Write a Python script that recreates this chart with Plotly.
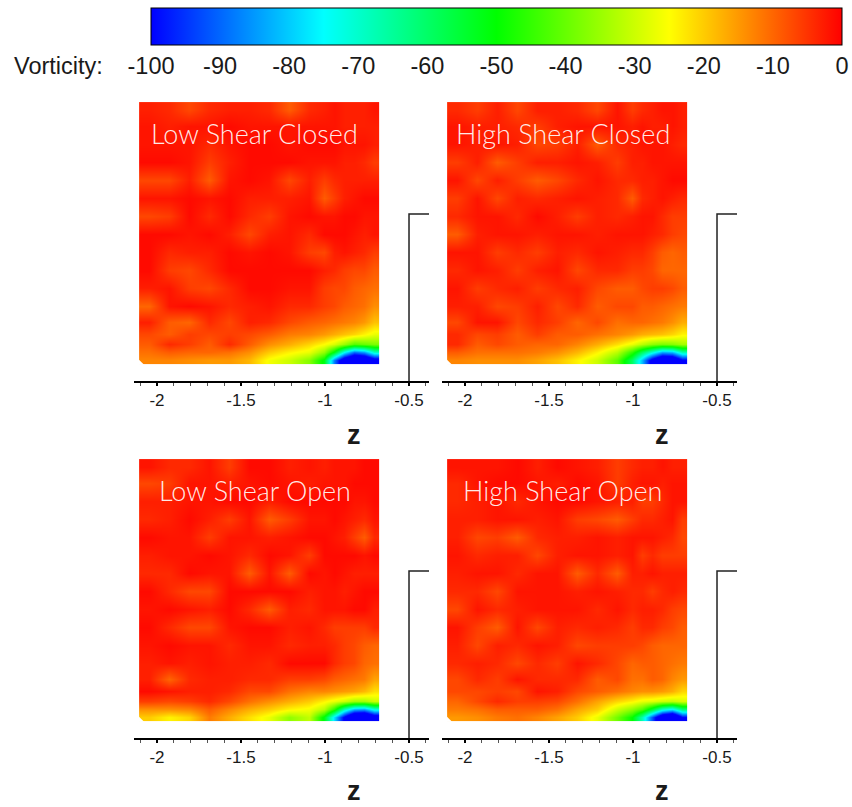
import plotly.graph_objects as go

# Grid positions of the vorticity field
grid_z = [-2.047, -1.928, -1.809, -1.69, -1.571, -1.452, -1.333, -1.214, -1.095,
          -1.006, -0.946, -0.887, -0.827, -0.768, -0.708]
grid_y = [0.125, 0.172, 0.220, 0.280, 0.351, 0.446, 0.553, 0.661, 0.768,
          0.875, 0.982, 1.089, 1.196, 1.303, 1.411, 1.518, 1.613]

# Rows run from the floor upwards
low_shear_closed = [
    [-13, -13, -14, -15, -15, -18, -26, -30, -37, -52, -88, -112, -122, -120, -108],
    [-11, -9, -10, -10, -11, -14, -20, -24, -27, -36, -52, -75, -90, -85, -70],
    [-9, -4, -6, -9, -4, -9, -14, -17, -21, -25, -29, -35, -42, -40, -38],
    [-7, -9, -6, -7, -6, -7, -9, -12, -13, -15, -17, -19, -21, -24, -27],
    [-3, -9, -10, -4, -7, -3, -4, -7, -9, -10, -11, -12, -13, -15, -19],
    [-10, -2, -1, -2, -4, -3, -2, -4, -4, -6, -7, -9, -10, -11, -14],
    [-3, -2, -6, -7, -4, -1, -1, -2, -2, -6, -7, -7, -9, -10, -11],
    [-1, -6, -7, -4, -1, -1, -1, -1, -1, -3, -4, -6, -7, -7, -9],
    [-1, -4, -3, -3, -1, -2, -1, -2, -6, -7, -3, -2, -3, -4, -6],
    [-1, -1, -2, -1, -3, -7, -3, -2, -4, -1, -1, -1, -2, -3, -2],
    [-7, -6, -1, -4, -1, -4, -6, -2, -1, -2, -2, -1, -1, -2, -2],
    [-2, -2, -1, -2, -1, -3, -3, -3, -2, -9, -6, -3, -2, -1, -1],
    [-7, -7, -3, -9, -2, -1, -2, -7, -3, -6, -4, -3, -3, -3, -3],
    [-1, -1, -2, -6, -3, -1, -1, -1, -2, -2, -2, -3, -3, -4, -6],
    [-2, -2, -2, -4, -2, -1, -1, -2, -1, -1, -1, -2, -2, -2, -3],
    [-2, -3, -2, -2, -1, -2, -2, -2, -2, -2, -2, -3, -3, -3, -3],
    [-3, -4, -7, -4, -3, -3, -4, -9, -4, -3, -2, -3, -3, -3, -2],
]
high_shear_closed = [
    [-13, -14, -14, -14, -16, -19, -24, -30, -41, -60, -82, -106, -120, -118, -102],
    [-9, -11, -11, -11, -12, -14, -18, -24, -32, -46, -60, -72, -84, -82, -68],
    [-4, -9, -7, -9, -10, -10, -13, -17, -22, -27, -32, -36, -38, -37, -34],
    [-4, -7, -6, -9, -6, -9, -9, -11, -13, -15, -17, -18, -19, -21, -24],
    [-7, -2, -2, -7, -4, -6, -10, -7, -11, -10, -10, -11, -12, -14, -17],
    [-3, -3, -7, -6, -3, -7, -4, -9, -7, -7, -9, -9, -10, -11, -12],
    [-2, -6, -4, -3, -6, -4, -3, -7, -9, -9, -7, -6, -6, -7, -9],
    [-4, -2, -3, -6, -3, -2, -7, -4, -4, -6, -6, -7, -10, -10, -10],
    [-2, -2, -6, -4, -6, -3, -4, -2, -3, -4, -4, -6, -9, -10, -9],
    [-9, -3, -2, -2, -3, -2, -2, -3, -2, -2, -2, -3, -4, -6, -7],
    [-4, -2, -2, -4, -1, -3, -6, -3, -4, -3, -2, -2, -4, -6, -6],
    [-6, -2, -7, -3, -4, -3, -2, -3, -4, -9, -4, -3, -2, -3, -4],
    [-2, -7, -3, -6, -9, -7, -4, -2, -4, -4, -3, -3, -2, -1, -1],
    [-6, -3, -9, -6, -3, -3, -2, -3, -6, -3, -3, -2, -2, -2, -2],
    [-2, -3, -2, -3, -7, -6, -3, -9, -4, -3, -2, -2, -2, -3, -4],
    [-2, -3, -3, -4, -6, -3, -2, -2, -2, -3, -2, -3, -3, -2, -3],
    [-4, -6, -3, -7, -3, -3, -4, -7, -2, -6, -4, -3, -2, -2, -3],
]
low_shear_open = [
    [-20, -24, -21, -12, -17, -22, -27, -36, -31, -52, -78, -102, -122, -124, -110],
    [-14, -14, -13, -9, -13, -17, -20, -24, -26, -32, -46, -68, -82, -84, -72],
    [-6, -7, -6, -4, -7, -11, -14, -17, -20, -24, -27, -30, -34, -34, -30],
    [-1, -2, -3, -3, -4, -7, -7, -11, -13, -13, -14, -15, -16, -18, -22],
    [-3, -10, -4, -3, -3, -4, -4, -6, -6, -7, -9, -10, -11, -12, -16],
    [-3, -2, -3, -2, -3, -3, -4, -1, -1, -1, -4, -6, -7, -10, -11],
    [-2, -1, -2, -2, -4, -2, -2, -4, -3, -3, -4, -6, -7, -9, -10],
    [-1, -4, -7, -7, -2, -1, -1, -3, -2, -4, -6, -6, -6, -6, -4],
    [-2, -1, -2, -3, -1, -4, -9, -3, -4, -2, -2, -2, -1, -1, -3],
    [-1, -4, -7, -7, -1, -1, -1, -1, -3, -2, -2, -3, -2, -1, -1],
    [-4, -4, -1, -2, -2, -9, -2, -9, -1, -2, -1, -2, -3, -3, -3],
    [-3, -2, -2, -1, -2, -4, -1, -2, -6, -1, -1, -1, -1, -2, -1],
    [-1, -2, -2, -6, -2, -2, -3, -2, -1, -1, -2, -3, -6, -9, -4],
    [-4, -3, -1, -3, -6, -2, -9, -6, -2, -2, -1, -2, -3, -4, -2],
    [-3, -3, -2, -2, -1, -1, -3, -1, -1, -1, -1, -1, -2, -2, -1],
    [-7, -6, -2, -2, -3, -2, -1, -2, -3, -2, -2, -2, -1, -1, -1],
    [-2, -4, -4, -2, -6, -1, -1, -3, -2, -3, -2, -2, -2, -1, -1],
]
high_shear_open = [
    [-15, -14, -12, -11, -13, -16, -20, -27, -39, -50, -68, -92, -116, -124, -100],
    [-12, -11, -9, -9, -9, -11, -16, -20, -30, -36, -42, -55, -70, -76, -62],
    [-10, -7, -4, -6, -6, -7, -11, -16, -21, -24, -27, -28, -30, -31, -29],
    [-7, -7, -6, -7, -2, -3, -7, -9, -11, -13, -14, -14, -15, -17, -21],
    [-7, -4, -6, -2, -4, -4, -4, -9, -7, -11, -11, -9, -10, -13, -15],
    [-4, -3, -4, -7, -4, -6, -2, -4, -7, -10, -9, -9, -10, -11, -12],
    [-3, -7, -3, -4, -2, -3, -7, -6, -6, -6, -7, -9, -10, -10, -10],
    [-2, -6, -9, -2, -7, -3, -4, -3, -4, -6, -4, -4, -6, -7, -9],
    [-7, -2, -4, -3, -2, -2, -2, -4, -2, -4, -3, -3, -4, -6, -7],
    [-4, -4, -7, -2, -2, -2, -3, -2, -3, -4, -4, -6, -4, -3, -4],
    [-3, -2, -2, -4, -2, -2, -9, -4, -9, -3, -3, -2, -3, -3, -3],
    [-2, -4, -3, -3, -7, -3, -2, -2, -3, -2, -6, -4, -6, -6, -6],
    [-3, -7, -6, -9, -4, -3, -3, -2, -3, -2, -2, -2, -3, -4, -7],
    [-3, -3, -2, -2, -3, -2, -6, -7, -9, -6, -4, -4, -3, -2, -6],
    [-4, -3, -2, -4, -2, -1, -1, -2, -3, -3, -6, -6, -4, -2, -2],
    [-4, -2, -1, -1, -2, -3, -1, -2, -6, -3, -2, -2, -3, -2, -2],
    [-2, -2, -2, -1, -3, -1, -2, -3, -6, -4, -3, -3, -2, -3, -3],
]

panel_titles = ["Low Shear Closed", "High Shear Closed", "Low Shear Open", "High Shear Open"]
panel_fields = [low_shear_closed, high_shear_closed, low_shear_open, high_shear_open]

wall_z = [-0.5, -0.5, -0.381]
wall_y = [0.0, 0.994, 0.994]
chamfer_z = [-2.112, -2.077, -2.112]
chamfer_y = [0.096, 0.096, 0.131]

x_ticks = [-2, -1.5, -1, -0.5]
x_tick_labels = ["-2", "-1.5", "-1", "-0.5"]
cbar_ticks = [-100, -90, -80, -70, -60, -50, -40, -30, -20, -10, 0]
cbar_labels = ["-100", "-90", "-80", "-70", "-60", "-50", "-40", "-30", "-20", "-10", "0"]

W, H = 852, 807
col_px = [(134, 429), (442, 737)]
row_px = [(102, 381), (459, 738)]
z_label_px = [435, 791]
Z_RANGE = [-2.137, -0.381]
Y_RANGE = [0, 1.661]

AXIS_FONT = "Liberation Sans, Arial, sans-serif"
fig = go.Figure()
layout = {}
idx = 0
for r in range(2):
    for c in range(2):
        idx += 1
        xname = "x" if idx == 1 else f"x{idx}"
        yname = "y" if idx == 1 else f"y{idx}"
        fig.add_trace(go.Heatmap(x=grid_z, y=grid_y, z=panel_fields[idx - 1], coloraxis="coloraxis",
                                 zsmooth="best", xaxis=xname, yaxis=yname, hoverinfo="skip"))
        fig.add_trace(go.Scatter(x=chamfer_z, y=chamfer_y, mode="lines", fill="toself", fillcolor="white",
                                 line=dict(width=0, color="white"), xaxis=xname, yaxis=yname,
                                 showlegend=False, hoverinfo="skip"))
        fig.add_trace(go.Scatter(x=wall_z, y=wall_y, mode="lines", line=dict(color="#222222", width=1.5),
                                 xaxis=xname, yaxis=yname, showlegend=False, hoverinfo="skip"))
        xl, xr = col_px[c]
        yt, yb = row_px[r]
        layout[xname.replace("x", "xaxis")] = dict(
            domain=[xl / W, xr / W], range=Z_RANGE, anchor=yname, showgrid=False, zeroline=False,
            showline=True, linecolor="black", linewidth=2,
            tickmode="array", tickvals=x_ticks, ticktext=x_tick_labels,
            ticks="outside", ticklen=3, tickwidth=2, tickcolor="black",
            tickfont=dict(family=AXIS_FONT, size=17, color="#1a1a1a"),
            minor=dict(dtick=0.1, tick0=-2, ticks="outside", ticklen=3, tickwidth=1, tickcolor="#555555", showgrid=False),
        )
        layout[yname.replace("y", "yaxis")] = dict(
            domain=[1 - yb / H, 1 - yt / H], range=Y_RANGE, anchor=xname, visible=False)
        fig.add_annotation(x=-1.417, y=1.475, xref=xname, yref=yname, text=panel_titles[idx - 1], showarrow=False,
                           font=dict(family="Lato", size=27, weight=300, color="rgba(255,255,255,0.92)"))
        fig.add_annotation(x=-0.827, y=1 - z_label_px[r] / H, xref=xname, yref="paper", yanchor="middle",
                           text="z", showarrow=False,
                           font=dict(family=AXIS_FONT, size=27, color="#1a1a1a", weight="bold"))

fig.add_annotation(x=58 / W, y=1 - 66 / H, xref="paper", yref="paper", xanchor="center", yanchor="middle",
                   text="Vorticity:", showarrow=False,
                   font=dict(family=AXIS_FONT, size=23.5, color="#1a1a1a"))

fig.update_layout(
    width=W, height=H, margin=dict(l=0, r=0, t=0, b=0), paper_bgcolor="white", plot_bgcolor="white",
    showlegend=False,
    coloraxis=dict(
        cmin=-100, cmax=0,
        colorscale=[[0, "#0000ff"], [0.25, "#00ffff"], [0.5, "#00ff00"], [0.75, "#ffff00"], [1, "#ff0000"]],
        colorbar=dict(
            orientation="h", x=151 / W, xanchor="left", y=1 - 8 / H, yanchor="top",
            lenmode="pixels", len=691, thicknessmode="pixels", thickness=37, xpad=0, ypad=0,
            outlinecolor="black", outlinewidth=1, tickmode="array", tickvals=cbar_ticks, ticktext=cbar_labels,
            ticks="outside", ticklen=1, tickcolor="rgba(0,0,0,0)",
            tickfont=dict(family=AXIS_FONT, size=23.5, color="#1a1a1a"),
        ),
    ),
    **layout,
)
fig.write_html("out.html", config={"displayModeBar": False}, post_script="document.body.style.margin='0';")
